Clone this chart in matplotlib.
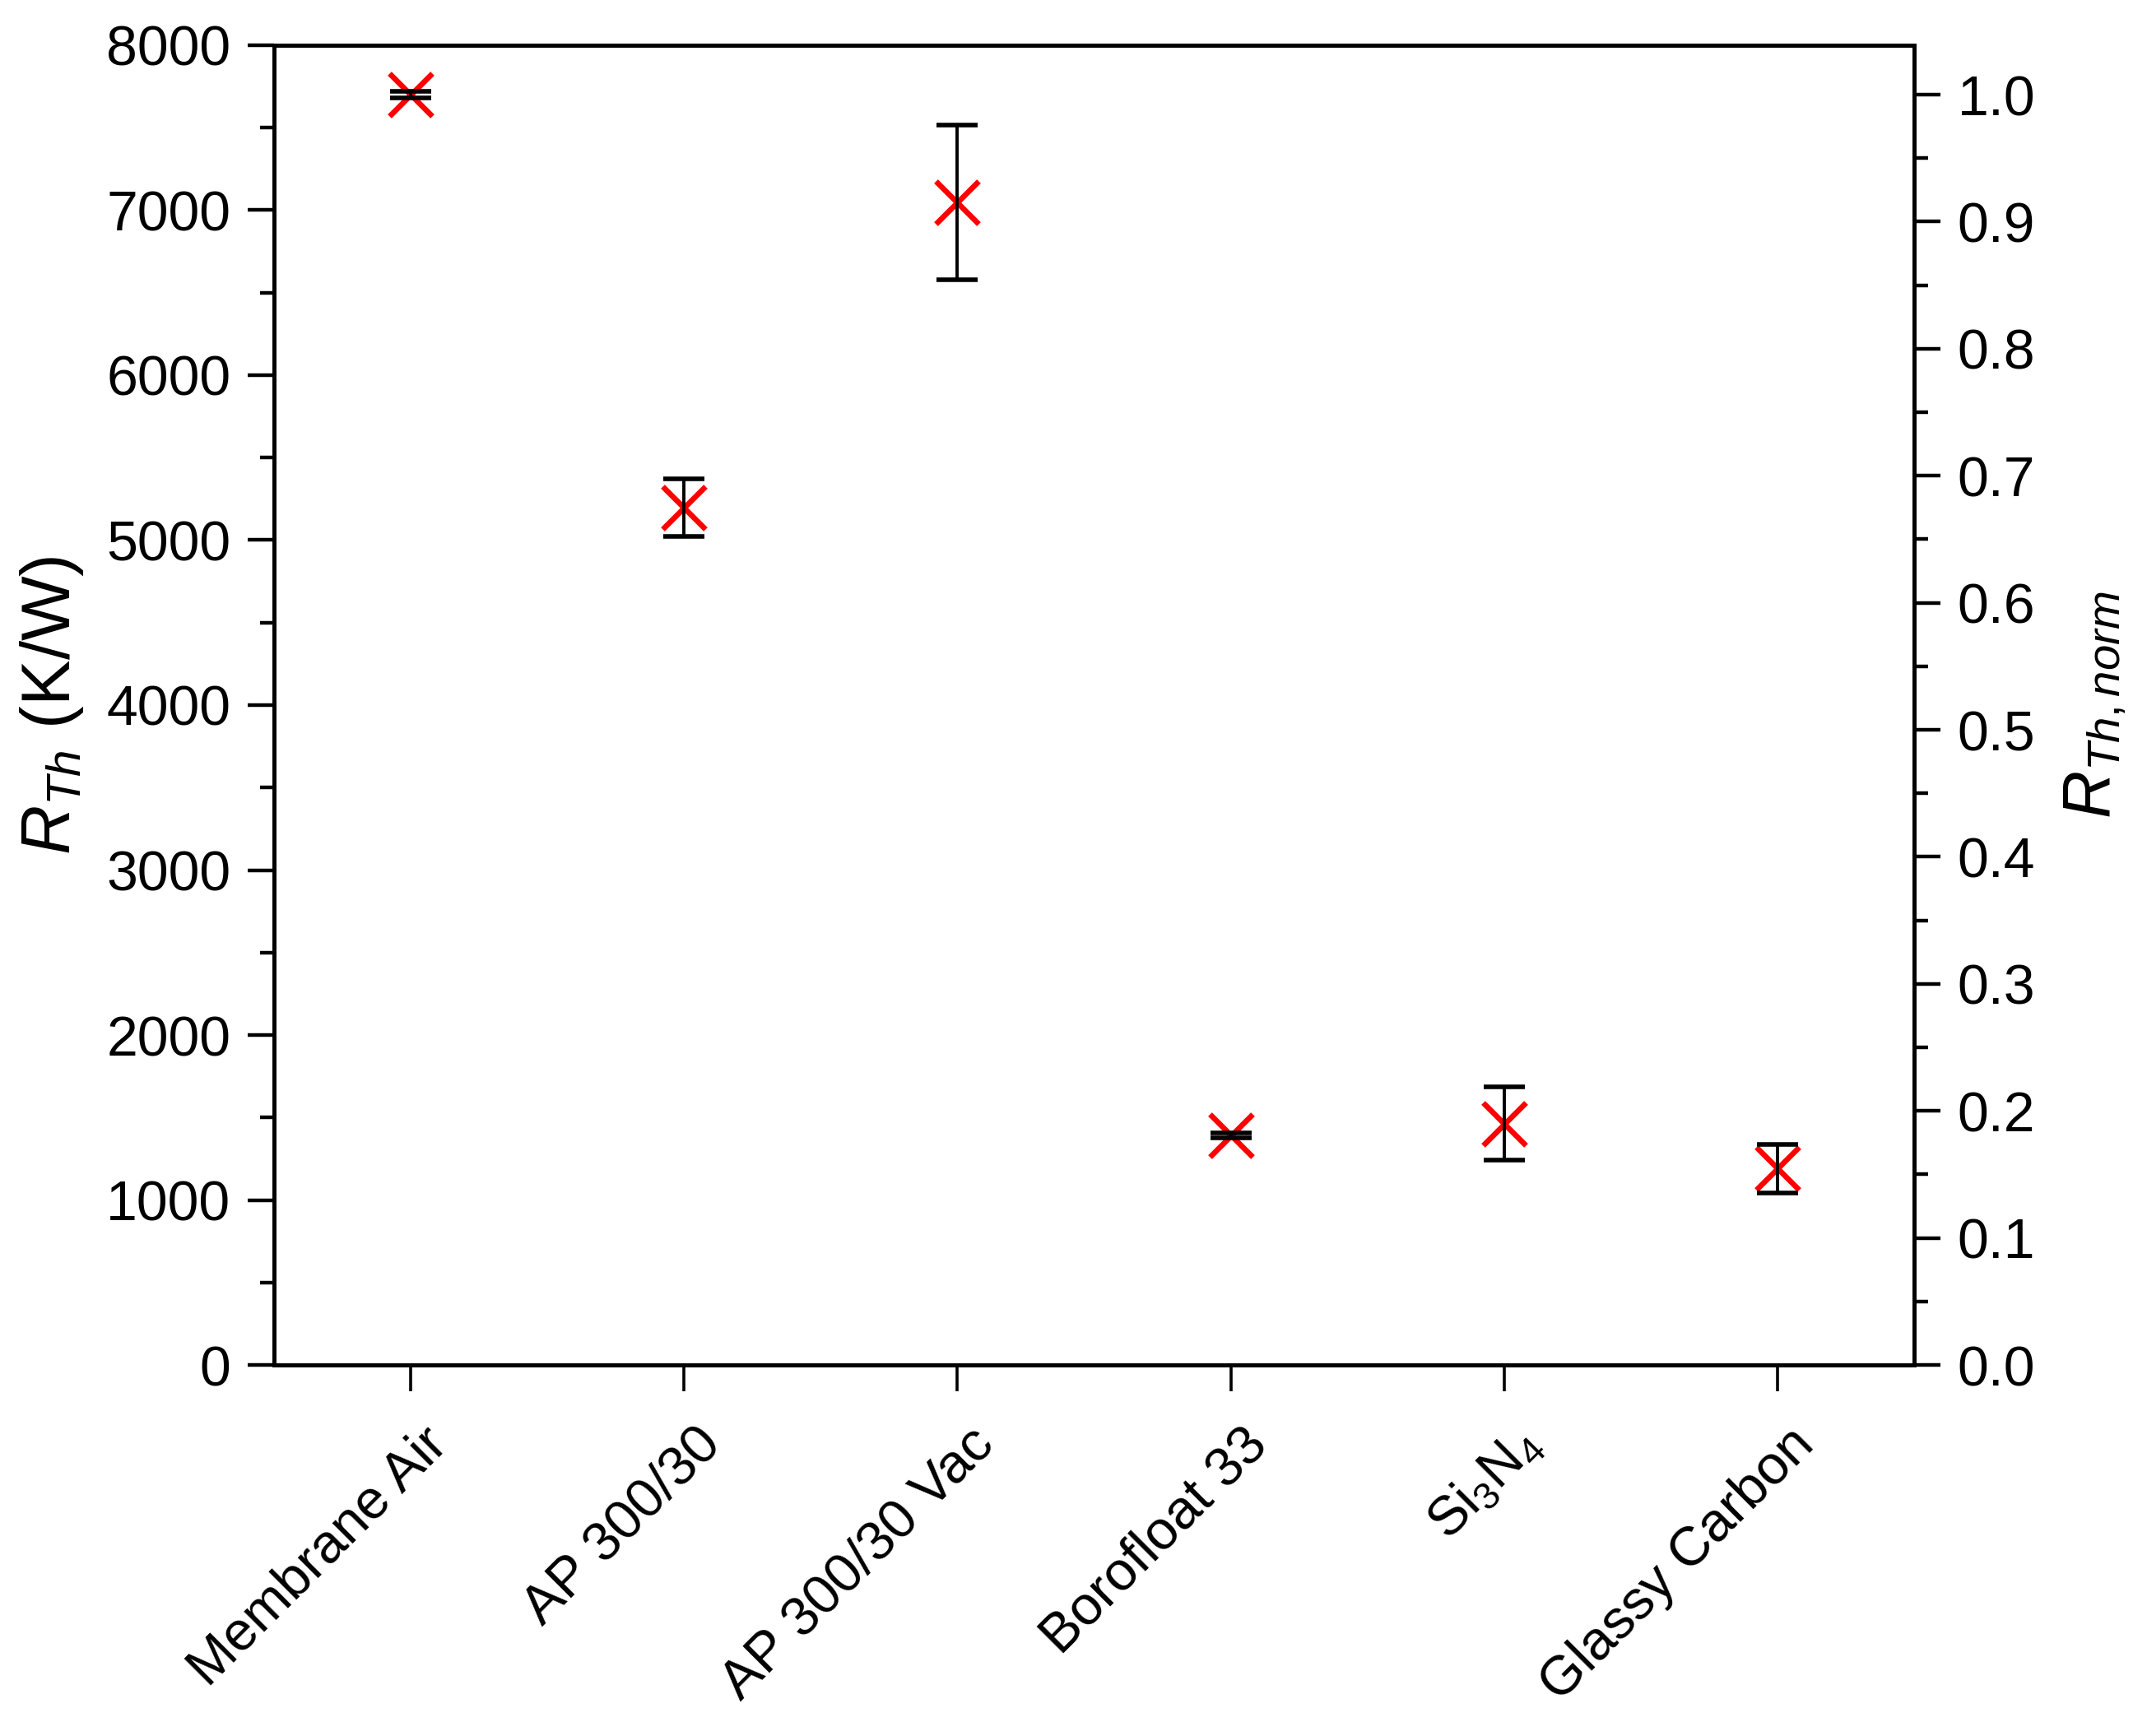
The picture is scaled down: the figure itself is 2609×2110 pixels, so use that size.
import matplotlib
matplotlib.use("Agg")
import matplotlib.pyplot as plt
import matplotlib.transforms as mtransforms
from matplotlib.ticker import MultipleLocator, FormatStrFormatter

plt.rcParams['font.family'] = ['Liberation Sans', 'DejaVu Sans']
plt.rcParams['mathtext.fontset'] = 'custom'
plt.rcParams['mathtext.rm'] = 'Liberation Sans'
plt.rcParams['mathtext.it'] = 'Liberation Sans:italic'

# Proben und gemessene thermische Widerstände (K/W)
proben = ['Membrane Air', 'AP 300/30', 'AP 300/30 Vac', 'Borofloat 33',
          'Si$_\\mathregular{3}$N$_\\mathregular{4}$', 'Glassy Carbon']
rth = [7700, 5195, 7047, 1393, 1462, 1190]
rth_err = [21, 175, 468, 15, 222, 145]

x = list(range(1, len(proben) + 1))
rth_ref = rth[0]

fig = plt.figure(figsize=(26.09, 21.10), dpi=100)
ax = fig.add_axes([0.1276, 0.2137, 0.7639, 0.7603])

ax.plot(x, rth, 'x', color='red', ms=37, mew=4.8, zorder=2)
ax.errorbar(x, rth, yerr=rth_err, fmt='none', ecolor='black',
            elinewidth=2.8, capsize=18, capthick=4, zorder=3)

ax.set_xlim(0.5, 6.5)
ax.set_ylim(0, 8000)
ax.yaxis.set_major_locator(MultipleLocator(1000))
ax.yaxis.set_minor_locator(MultipleLocator(500))

ax.tick_params(axis='x', which='major', direction='out', length=23,
               width=2.6, labelsize=48, pad=24, top=False)
ax.tick_params(axis='y', which='major', direction='out', length=23,
               width=3.2, labelsize=49, pad=15)
ax.tick_params(axis='y', which='minor', direction='out', length=12, width=3.2)

ax.set_xticks(x)
ax.set_xticklabels(proben, rotation=45, ha='right', va='top',
                   rotation_mode='anchor')
# Beschriftungen etwas nach rechts schieben (nach tick_params, sonst weg)
offset = mtransforms.ScaledTranslation(0.13, 0, fig.dpi_scale_trans)
for lab in ax.get_xticklabels():
    lab.set_transform(lab.get_transform() + offset)

ax.set_ylabel('$R_{Th}$ (K/W)', fontsize=60, labelpad=18)

for s in ax.spines.values():
    s.set_linewidth(3.5)

# Normierte Achse rechts
ax2 = ax.twinx()
ax2.set_ylim(0, 8000 / rth_ref)
ax2.yaxis.set_major_locator(MultipleLocator(0.1))
ax2.yaxis.set_minor_locator(MultipleLocator(0.05))
ax2.yaxis.set_major_formatter(FormatStrFormatter('%.1f'))
ax2.tick_params(axis='y', which='major', direction='out', length=23,
                width=3.2, labelsize=49, pad=15)
ax2.tick_params(axis='y', which='minor', direction='out', length=12, width=3.2)
ax2.set_ylabel('$R_{Th,norm}$', fontsize=58, labelpad=24)
for s in ax2.spines.values():
    s.set_linewidth(3.5)

fig.savefig('out.png', dpi=100)
